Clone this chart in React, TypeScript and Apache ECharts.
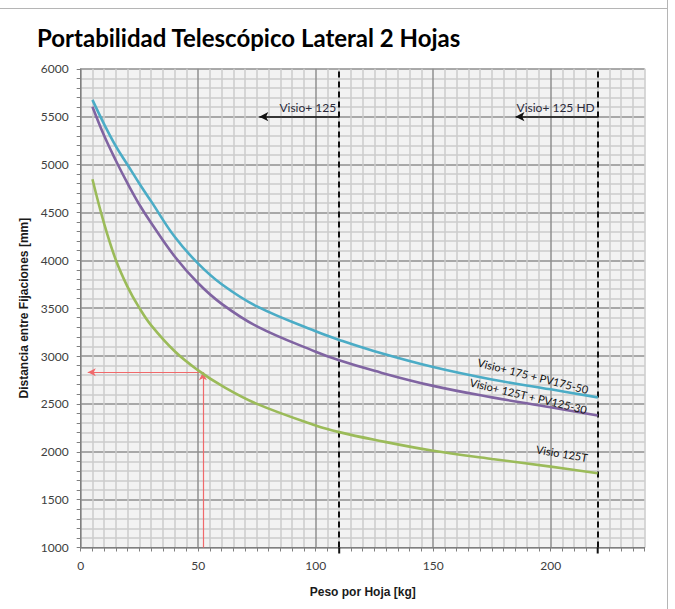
import React, { useEffect, useRef } from 'react';
import * as echarts from 'echarts';

// Weight per leaf [kg]
const weights = [5, 10, 15, 20, 25, 30, 40, 50, 60, 75, 100, 110, 125, 150, 175, 200, 220];
// Distance between fixings [mm]
const visio175PV = [5675, 5420, 5190, 4995, 4800, 4615, 4245, 3965, 3750, 3518, 3258, 3168, 3050, 2885, 2755, 2652, 2568];
const visio125TPV = [5604, 5300, 5040, 4800, 4580, 4390, 4040, 3760, 3545, 3310, 3045, 2955, 2845, 2688, 2568, 2464, 2378];
const visio125T = [4846, 4380, 4000, 3720, 3500, 3320, 3050, 2850, 2690, 2500, 2275, 2205, 2125, 2010, 1925, 1845, 1775];

const seriesNames = ['Visio+ 175 + PV175-50', 'Visio+ 125T + PV125-30', 'Visio 125T'];
const limitWeights = [110, 220];
const limitNames = ['Visio+ 125', 'Visio+ 125 HD'];
const limitArrowLevel = 5500;
const limitArrowStarts = [76, 185];
const exampleWeight = 52;
const exampleDistance = 2831;
const exampleArrowEnd = 3;

const TITLE = 'Portabilidad Telescópico Lateral 2 Hojas';
const X_NAME = 'Peso por Hoja [kg]';
const Y_NAME = 'Distancia entre Fijaciones [mm]';

export default function App() {
  const ref = useRef<HTMLDivElement>(null);

  useEffect(() => {
    document.body.style.margin = '0';
    const chart = echarts.init(ref.current!, null, { renderer: 'svg' });
    const major = '#8f8f8f';
    const minor = '#cbcbcb';
    const xColors = [major, minor, minor, minor, minor, minor, minor, minor, minor, minor];
    const yColors = [major, minor, minor, minor, minor];
    const tickFont = { fontFamily: 'Lato', fontSize: 12, color: '#404040' };
    const nameFont = { fontFamily: 'Liberation Sans', fontSize: 12, fontWeight: 'bold', color: '#1a1a1a' };
    const colors = ['#4bacc6', '#8064a2', '#9bbb59'];
    const valuesList = [visio175PV, visio125TPV, visio125T];

    const option: any = {
      animation: false,
      backgroundColor: '#ffffff',
      title: {
        text: TITLE,
        left: 32,
        top: 20,
        textStyle: { fontFamily: 'Lato', fontWeight: 'bold', fontSize: 24, color: '#000' },
      },
      grid: {
        left: 80.7,
        top: 68.8,
        right: 30.3,
        bottom: 61.5,
        show: true,
        backgroundColor: '#f2f2f2',
        borderWidth: 0,
      },
      xAxis: {
        type: 'value',
        min: 0,
        max: 240,
        interval: 5,
        name: X_NAME,
        nameLocation: 'middle',
        nameGap: 38,
        nameTextStyle: nameFont,
        axisLine: { show: true, lineStyle: { color: '#7f7f7f', width: 1 } },
        axisTick: { show: true, length: 4, lineStyle: { color: '#7f7f7f' } },
        axisLabel: {
          ...tickFont,
          margin: 12,
          formatter: (v: number) => (v % 50 === 0 ? String(v) : ''),
        },
        splitLine: { show: true, lineStyle: { color: xColors, width: 1.5 } },
      },
      yAxis: {
        type: 'value',
        min: 1000,
        max: 6000,
        interval: 100,
        name: Y_NAME,
        nameLocation: 'middle',
        nameGap: 50,
        nameRotate: 90,
        nameTextStyle: nameFont,
        axisLine: { show: true, lineStyle: { color: '#7f7f7f', width: 1 } },
        axisTick: { show: true, length: 4, lineStyle: { color: '#7f7f7f' } },
        axisLabel: {
          ...tickFont,
          margin: 12,
          formatter: (v: number) => (v % 500 === 0 ? String(v) : ''),
        },
        splitLine: { show: true, lineStyle: { color: yColors, width: 1.5 } },
      },
      series: [
        ...valuesList.map((vals, i) => ({
          name: seriesNames[i],
          type: 'line',
          data: weights.map((w, j) => [w, vals[j]]),
          smooth: 0.4,
          showSymbol: false,
          symbol: 'none',
          lineStyle: { color: colors[i], width: 2.6 },
          z: 5,
        })),
        {
          type: 'line',
          data: [],
          silent: true,
          markLine: {
            silent: true,
            symbol: 'none',
            label: { show: false },
            lineStyle: { color: '#111', type: [6, 4], width: 2 },
            data: limitWeights.map((w) => ({ xAxis: w })),
          },
          z: 6,
        },
        {
          type: 'line',
          data: [],
          silent: true,
          markLine: {
            silent: true,
            symbol: ['arrow', 'none'],
            symbolSize: [7, 9],
            lineStyle: { color: '#111', type: 'solid', width: 1.6 },
            label: {
              show: true,
              position: 'insideEndTop',
              distance: 3,
              fontFamily: 'Lato',
              fontSize: 12,
              color: '#2a2a3a',
            },
            data: limitWeights.map((w, i) => [
              { coord: [limitArrowStarts[i], limitArrowLevel] },
              { coord: [w, limitArrowLevel], label: { formatter: limitNames[i] } },
            ]),
          },
          z: 6,
        },
        {
          type: 'line',
          data: [],
          silent: true,
          markLine: {
            silent: true,
            symbolSize: [6, 8],
            lineStyle: { color: '#f0696b', type: 'solid', width: 1.2 },
            label: { show: false },
            data: [
              [
                { coord: [exampleWeight, 1000], symbol: 'none' },
                { coord: [exampleWeight, exampleDistance], symbol: 'arrow' },
              ],
              [
                { coord: [exampleArrowEnd, exampleDistance], symbol: 'arrow' },
                { coord: [exampleWeight, exampleDistance], symbol: 'none' },
              ],
            ],
          },
          z: 7,
        },
      ],
    };
    chart.setOption(option);

    const anchors = [
      [192.5, 2793],
      [190.5, 2584],
      [204.8, 1985],
    ];
    const rotations = [-0.245, -0.235, -0.17];
    const graphics: any[] = seriesNames.map((name, i) => {
      const p = chart.convertToPixel({ gridIndex: 0 }, anchors[i]) as number[];
      return {
        type: 'text',
        x: p[0],
        y: p[1],
        rotation: rotations[i],
        style: {
          text: name,
          fontFamily: 'Lato',
          fontSize: 11,
          fill: '#111',
          align: 'center',
          verticalAlign: 'middle',
        },
        z: 20,
      };
    });
    limitWeights.forEach((w) => {
      const top = chart.convertToPixel({ gridIndex: 0 }, [w, 1000]) as number[];
      graphics.push({
        type: 'line',
        shape: { x1: top[0], y1: top[1], x2: top[0], y2: top[1] + 9 },
        style: { stroke: '#111', lineWidth: 2, lineDash: [6, 4] },
        z: 20,
      });
    });
    graphics.push({
      type: 'line',
      shape: { x1: 0, y1: 8.5, x2: 667.5, y2: 8.5 },
      style: { stroke: '#b5b5b5', lineWidth: 1 },
    });
    graphics.push({
      type: 'line',
      shape: { x1: 667.5, y1: 0, x2: 667.5, y2: 609 },
      style: { stroke: '#b5b5b5', lineWidth: 1 },
    });
    chart.setOption({ graphic: graphics });

    return () => chart.dispose();
  }, []);

  return <div ref={ref} style={{ width: 675, height: 609 }} />;
}
